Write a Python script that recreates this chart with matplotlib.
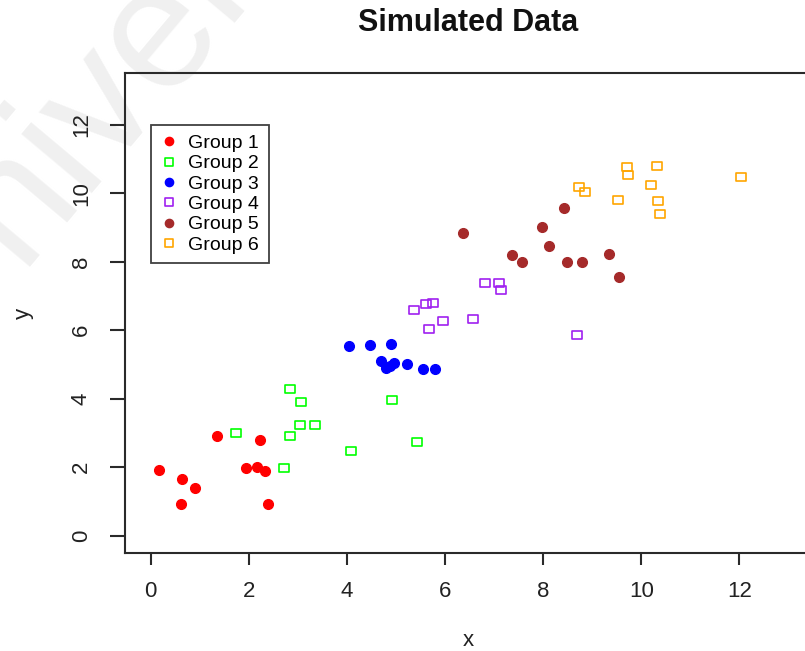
import matplotlib
matplotlib.use("Agg")
import matplotlib.pyplot as plt
from matplotlib.path import Path

plt.rcParams['font.family'] = ['Liberation Sans', 'DejaVu Sans']

# ---- data -------------------------------------------------------------
g1_x = [0.18, 0.64, 0.91, 0.62, 1.36, 2.23, 1.94, 2.17, 2.33, 2.40]
g1_y = [1.92, 1.64, 1.40, 0.92, 2.90, 2.79, 1.97, 2.00, 1.88, 0.92]

g2_x = [2.85, 3.07, 3.05, 3.35, 1.75, 2.84, 2.71, 4.92, 5.42, 4.09]
g2_y = [4.28, 3.90, 3.22, 3.22, 2.98, 2.90, 1.96, 3.95, 2.72, 2.47]

g3_x = [4.05, 4.47, 4.90, 4.69, 4.96, 4.80, 4.88, 5.22, 5.55, 5.80]
g3_y = [5.53, 5.57, 5.60, 5.10, 5.04, 4.90, 4.96, 5.00, 4.85, 4.85]

g4_x = [5.37, 5.61, 5.76, 5.67, 5.97, 6.57, 6.81, 7.10, 7.14, 8.69]
g4_y = [6.60, 6.76, 6.79, 6.02, 6.27, 6.32, 7.37, 7.38, 7.18, 5.86]

g5_x = [6.36, 8.43, 7.98, 8.11, 7.36, 7.56, 8.49, 8.79, 9.34, 9.54]
g5_y = [8.85, 9.57, 9.00, 8.47, 8.18, 7.99, 7.99, 7.99, 8.22, 7.54]

g6_x = [8.73, 8.85, 9.70, 9.73, 10.33, 10.20, 9.52, 10.35, 10.38, 12.03]
g6_y = [10.17, 10.04, 10.76, 10.54, 10.78, 10.25, 9.79, 9.76, 9.40, 10.47]

group_names = ["Group 1", "Group 2", "Group 3", "Group 4", "Group 5", "Group 6"]
group_colors = ["#FF0000", "#00FF00", "#0000FF", "#A020F0", "#A52A2A", "#FFA500"]
group_filled = [True, False, True, False, True, False]

x_ticks = [0, 2, 4, 6, 8, 10, 12]
y_ticks = [0, 2, 4, 6, 8, 10, 12]

# ---- figure -------------------------------------------------------------
W, H = 805, 651
fig = plt.figure(figsize=(W / 100, H / 100), dpi=100)

# faint background watermark
fig.text(148 / W, 1 - 40 / H, "University", fontsize=125, color="#f0f0f0",
         rotation=50, ha="center", va="center", zorder=-10)

left, right, top, bottom = 125, 814, 72.7, 553.3
ax = fig.add_axes([left / W, 1 - bottom / H, (right - left) / W, (bottom - top) / H])
ax.patch.set_alpha(0)

# slightly wide open square, like the R pch 0 glyph
sq = Path([(-1.25, -1), (1.25, -1), (1.25, 1), (-1.25, 1), (-1.25, -1)],
          [Path.MOVETO, Path.LINETO, Path.LINETO, Path.LINETO, Path.CLOSEPOLY])

xs = [g1_x, g2_x, g3_x, g4_x, g5_x, g6_x]
ys = [g1_y, g2_y, g3_y, g4_y, g5_y, g6_y]
for gx, gy, name, col, filled in zip(xs, ys, group_names, group_colors, group_filled):
    if filled:
        ax.plot(gx, gy, linestyle="none", marker="o", markersize=7.0,
                markerfacecolor=col, markeredgecolor=col, label=name)
    else:
        ax.plot(gx, gy, linestyle="none", marker=sq, markersize=7.6,
                markerfacecolor="none", markeredgecolor=col, markeredgewidth=1.2,
                label=name)

ax.set_xlim(-0.52, 13.52)
ax.set_ylim(-0.52, 13.52)
ax.set_xticks(x_ticks)
ax.set_yticks(y_ticks)
ax.set_xticklabels([str(t) for t in x_ticks])
ax.set_yticklabels([str(t) for t in y_ticks], rotation=90, va="center")

for s in ax.spines.values():
    s.set_linewidth(1.5)
    s.set_color("#2a2a2a")

ax.tick_params(axis="x", length=8.6, width=1.5, color="#2a2a2a", pad=11,
               labelsize=16, labelcolor="#222222")
ax.tick_params(axis="y", length=10.8, width=1.5, color="#2a2a2a", pad=13,
               labelsize=16, labelcolor="#222222")

ax.set_xlabel("x", fontsize=16, color="#222222")
ax.set_ylabel("y", fontsize=16, color="#222222", rotation=90)
ax.xaxis.set_label_coords((468.7 - left) / (right - left), -(641 - bottom) / (bottom - top))
ax.xaxis.label.set_va("center")
ax.yaxis.set_label_coords(-(left - 23) / (right - left), 0.5)
ax.yaxis.label.set_va("center")

fig.text(468.5 / W, 1 - 23 / H, "Simulated Data", fontsize=22, fontweight="bold",
         ha="center", va="center", color="#111111")

leg = ax.legend(loc="upper left", bbox_to_anchor=(0, 12), bbox_transform=ax.transData,
                borderaxespad=0, fontsize=14, frameon=True, fancybox=False,
                handlelength=0.9, handletextpad=0.55, labelspacing=0.14,
                borderpad=0.5, markerscale=0.85)
leg.get_frame().set_edgecolor("#111111")
leg.get_frame().set_linewidth(1.3)

fig.savefig("out.png", dpi=100)
